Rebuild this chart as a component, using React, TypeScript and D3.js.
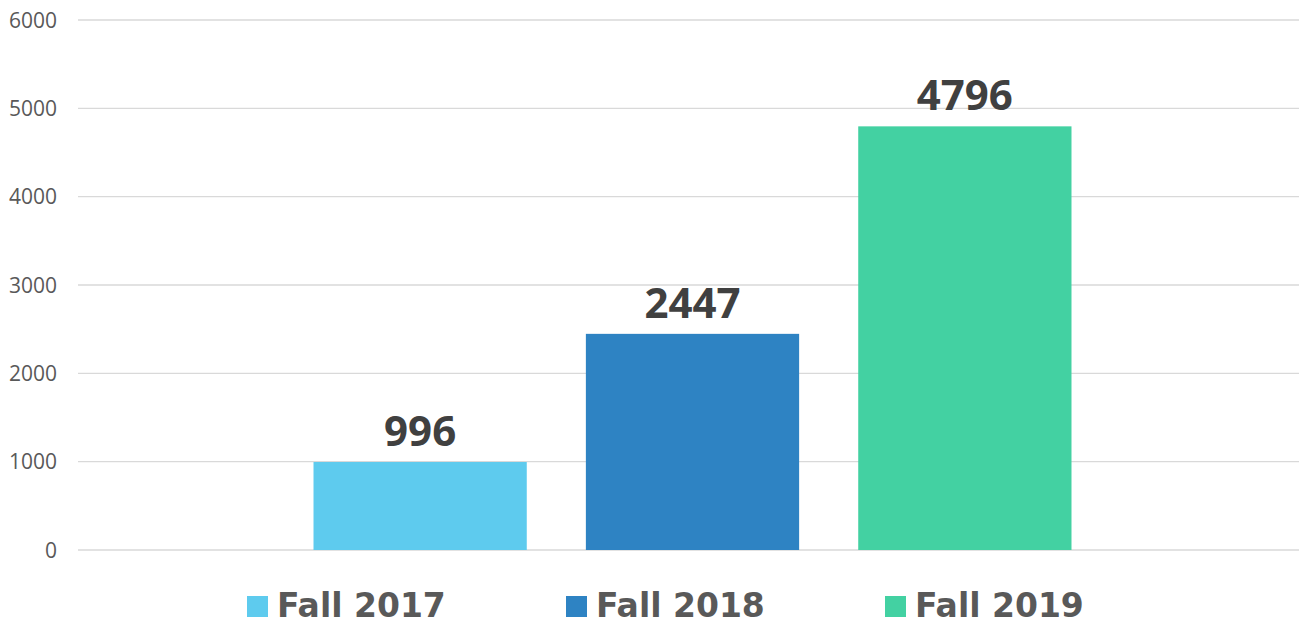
import React, { useEffect, useRef } from "react";
import * as d3 from "d3";

const categories = ["Total"];
const seriesNames = ["Fall 2017", "Fall 2018", "Fall 2019"];
const seriesValues = [996, 2447, 4796];
const seriesColors = ["#5ecbee", "#2e83c3", "#43d1a2"];
const yTicks = [0, 1000, 2000, 3000, 4000, 5000, 6000];

function App() {
  const ref = useRef<HTMLDivElement>(null);

  useEffect(() => {
    const width = 1307;
    const height = 626;
    const margin = { top: 20, right: 0, bottom: 76, left: 78 };

    const root = d3.select(ref.current);
    root.selectAll("*").remove();

    const svg = root
      .append("svg")
      .attr("width", width)
      .attr("height", height)
      .style("display", "block");

    const y = d3
      .scaleLinear()
      .domain([0, 6000])
      .range([height - margin.bottom, margin.top]);

    const x0 = d3
      .scaleBand()
      .domain(categories)
      .range([margin.left, width - margin.right])
      .paddingInner(0)
      .paddingOuter(0.3107);

    const x1 = d3
      .scaleBand()
      .domain(seriesNames)
      .range([0, x0.bandwidth()])
      .paddingInner(0.217)
      .paddingOuter(0);

    // gridlines
    svg
      .append("g")
      .selectAll("line")
      .data(yTicks)
      .join("line")
      .attr("x1", margin.left)
      .attr("x2", width - margin.right)
      .attr("y1", (d) => y(d))
      .attr("y2", (d) => y(d))
      .attr("stroke", "#d9d9d9")
      .attr("stroke-width", 1.3);

    // y tick labels
    svg
      .append("g")
      .selectAll("text")
      .data(yTicks)
      .join("text")
      .attr("x", 57)
      .attr("y", (d) => y(d))
      .attr("dy", "0.36em")
      .attr("text-anchor", "end")
      .attr("font-family", "'Open Sans', sans-serif")
      .attr("font-size", 21)
      .attr("fill", "#595959")
      .text((d) => d);

    const data = seriesNames.map((name, i) => ({
      name,
      value: seriesValues[i],
      color: seriesColors[i],
    }));

    const g = svg
      .append("g")
      .attr("transform", `translate(${x0(categories[0])},0)`);

    g.selectAll("rect")
      .data(data)
      .join("rect")
      .attr("x", (d) => x1(d.name)!)
      .attr("width", x1.bandwidth())
      .attr("y", (d) => y(d.value))
      .attr("height", (d) => y(0) - y(d.value))
      .attr("fill", (d) => d.color);

    g.selectAll("text")
      .data(data)
      .join("text")
      .attr("x", (d) => x1(d.name)! + x1.bandwidth() / 2)
      .attr("y", (d) => y(d.value) - 16)
      .attr("text-anchor", "middle")
      .attr("font-family", "'Open Sans', sans-serif")
      .attr("font-weight", "bold")
      .attr("font-size", 42)
      .attr("fill", "#404040")
      .text((d) => d.value);

    // legend
    const legend = svg
      .append("g")
      .selectAll("g")
      .data(data)
      .join("g")
      .attr("transform", (d, i) => `translate(${247 + i * 319},0)`);

    legend
      .append("rect")
      .attr("x", 0)
      .attr("y", 596)
      .attr("width", 21)
      .attr("height", 21)
      .attr("fill", (d) => d.color);

    legend
      .append("text")
      .attr("x", 30)
      .attr("y", 617)
      .attr("font-family", "'DejaVu Sans', sans-serif")
      .attr("font-weight", "bold")
      .attr("font-size", 33)
      .attr("fill", "#595959")
      .text((d) => d.name);
  }, []);

  return <div ref={ref} style={{ margin: -8 }}></div>;
}

export default App;
